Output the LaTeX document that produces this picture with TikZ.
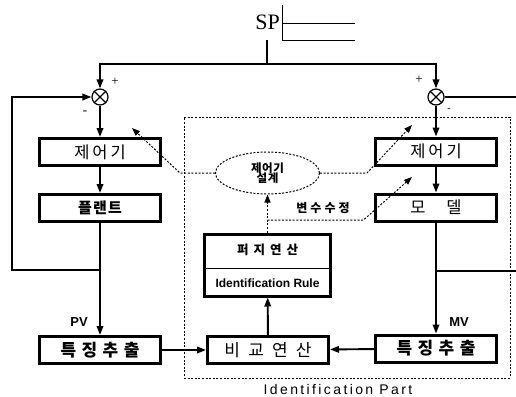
\documentclass[tikz,border=0pt]{standalone}
\usepackage{fontspec}
\setmainfont{Liberation Serif}
\setsansfont{Liberation Sans}
\newfontfamily\kr{Noto Sans CJK KR}
\usetikzlibrary{arrows.meta,shapes.geometric}

\begin{document}
\begin{tikzpicture}
        [x=1pt, y=-1pt,
         ln/.style={line width=1.9pt},
         arr/.style={ln, -{Triangle[length=9pt,width=6.5pt]}},
         dot/.style={line width=1pt, dash pattern=on 2pt off 1.6pt},
         darr/.style={dot, -{Triangle[length=8pt,width=6pt]}},
         ft/.style 2 args={font=\kr\fontsize{#1}{#1}\selectfont\addfontfeatures{LetterSpace=#2}},
         bft/.style 2 args={font=\kr\bfseries\fontsize{#1}{#1}\selectfont\addfontfeatures{LetterSpace=#2}},
         blk/.style={draw, line width=3pt, fill=white, minimum width=121pt,
             minimum height=27pt, inner sep=0pt},
         sum/.style={draw, circle, line width=1.2pt, minimum size=16pt, inner sep=0pt},
         lbl/.style={font=\sffamily\bfseries\fontsize{13}{13}\selectfont}]
        \useasboundingbox (0,0) rectangle (516,396);
        % Identification Part 영역
        \node[draw, dot, minimum width=326pt, minimum height=261pt, inner sep=0pt]
            (idp) at (347,247.5) {};
        \node[font=\sffamily\fontsize{14}{14}\selectfont\addfontfeatures{LetterSpace=17}]
            (idl) at (338,389) {Identification Part};
        % SP
        \node[anchor=east, inner sep=0pt, font=\fontsize{22}{22}\selectfont] (sp) at (280,22) {SP};
        \draw[line width=0.8pt] (355,23) -- (282,23) (282,5) -- (282,40) -- (355,40);
        \coordinate (spb) at (267,40);
        \coordinate (jt) at (267,64);
        % 좌측 루프
        \node[sum] (s1) at (100,97) {};
        \node[blk, ft={16.5}{18}] (c1) at (100,152) {제어기};
        \node[blk, bft={15}{8}] (p1) at (100,208) {플랜트};
        \node[blk, bft={17}{32}] (x1) at (100,350) {특징추출};
        % 우측 루프
        \node[sum] (s2) at (436,97) {};
        \node[blk, ft={16.5}{18}] (c2) at (436,151.5) {제어기};
        \node[blk, ft={16.5}{0}] (m2) at (436,207.5) {모\hspace{21pt}델};
        \node[blk, bft={17}{32}] (x2) at (436,348.5) {특징추출};
        % 식별부
        \node[blk, ft={17}{48}] (cmp) at (268,350) {비교연산};
        \node[blk, minimum width=126pt, minimum height=62pt] (fz) at (267.5,265) {};
        \node[bft={12.5}{40}] (fzt) at (267.5,250) {퍼지연산};
        \node[font=\sffamily\bfseries\fontsize{12}{12}\selectfont] (fzr) at (267.5,283) {Identification Rule};
        \draw[line width=0.8pt] ([yshift=-3pt]fz.west) -- ([yshift=-3pt]fz.east);
        \node[draw, dot, ellipse, minimum width=104pt, minimum height=42pt, inner sep=0pt,
            align=center, bft={11.5}{5}] (dsg) at (267.5,173) {제어기\\[-1pt]설계};
        \node[bft={12}{25}] (vl) at (323,208) {변수수정};
        \node[lbl] (pv) at (79,322) {PV};
        \node[lbl] (mv) at (459,322) {MV};
        % 부호
        \node[font=\fontsize{13}{13}\selectfont] (pl1) at (115,82) {+};
        \node[font=\fontsize{13}{13}\selectfont] (mi1) at (85,113) {-};
        \node[font=\fontsize{13}{13}\selectfont] (pl2) at (419,80) {+};
        \node[font=\fontsize{10}{10}\selectfont] (mi2) at (449,110) {-};
        \coordinate (f1) at (100,270);
        \coordinate (lc) at (12,97);
        \coordinate (f2) at (436,271);
        \coordinate (e2) at (516,271);
        \coordinate (o2) at (516,97);
        \coordinate (t1) at (132,128);
        \coordinate (t2) at (412,125);
        \coordinate (t3) at (412,177);
        \coordinate (b1) at (267.5,220);
        \draw[line width=1.2pt] (s1.north east) -- (s1.south west) (s1.north west) -- (s1.south east);
        \draw[line width=1.2pt] (s2.north east) -- (s2.south west) (s2.north west) -- (s2.south east);
        \draw[ln] (spb) -- (jt);
        \draw[arr] (jt) -| (s1);
        \draw[arr] (jt) -| (s2);
        \draw[arr] (s1) -- (c1);
        \draw[arr] (c1) -- (p1);
        \draw[arr] (p1) -- (x1);
        \draw[arr] (f1) -| (lc) -- (s1);
        \draw[arr] (s2) -- (c2);
        \draw[arr] (c2) -- (m2);
        \draw[arr] (m2) -- (x2);
        \draw[ln] (s2) -- (o2);
        \draw[ln] (f2) -- (e2);
        \draw[arr] (x1) -- (cmp);
        \draw[arr] (x2) -- (cmp);
        \draw[arr] (cmp) -- (fz);
        % 설계 / 변수수정 경로
        \draw[darr] (dsg.west) -- ++(-35,0) -- (t1);
        \draw[darr] (dsg.east) -- ++(47,0) -- (t2);
        \draw[darr] (fz) -- (dsg);
        \draw[darr] (b1) -- ++(96,0) -- (t3);
    \end{tikzpicture}
\end{document}
